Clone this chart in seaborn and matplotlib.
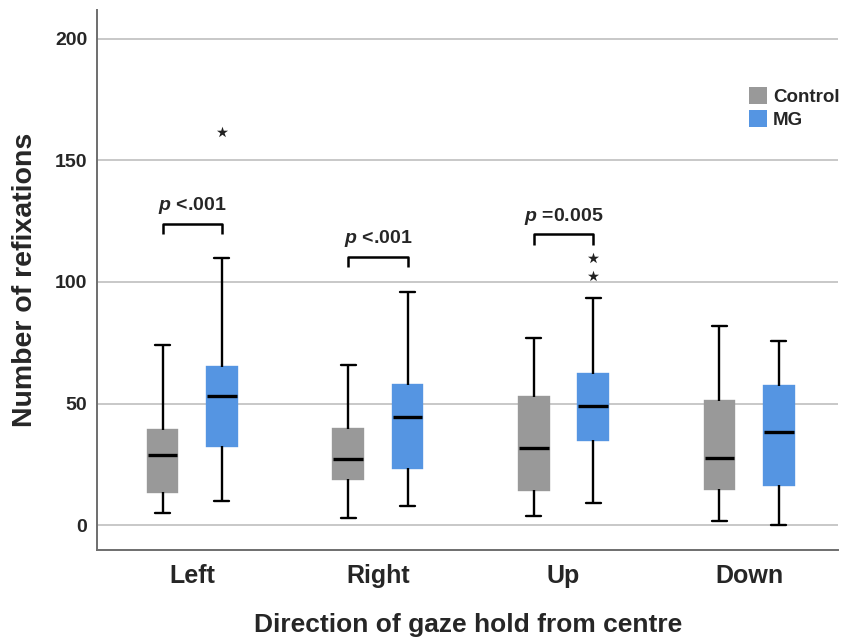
import numpy as np
import pandas as pd
import matplotlib
matplotlib.use("Agg")
import matplotlib.pyplot as plt
from matplotlib.patches import Patch
import seaborn as sns

# ---- data ----
directions = ["Left", "Right", "Up", "Down"]
groups = ["Control", "MG"]

# five-number summaries: whisker low, Q1, median, Q3, whisker high
ctrl_low = [4.8, 3.0, 3.8, 1.8]
ctrl_q1 = [13.7, 18.8, 14.4, 14.8]
ctrl_med = [28.8, 27.1, 31.9, 27.4]
ctrl_q3 = [39.3, 39.7, 52.5, 51.0]
ctrl_high = [74.0, 65.8, 77.0, 81.9]

mg_low = [9.9, 7.8, 8.9, 0.0]
mg_q1 = [32.6, 23.3, 34.9, 16.7]
mg_med = [53.0, 44.5, 48.9, 38.4]
mg_q3 = [65.1, 57.5, 62.1, 57.3]
mg_high = [110.0, 95.9, 93.2, 75.9]

# extreme values (asterisks), MG group
outlier_dir = ["Left", "Up", "Up"]
outlier_val = [161.6, 109.9, 102.5]

# significance annotations
p_dirs = ["Left", "Right", "Up"]
p_labels = ["$p$ <.001", "$p$ <.001", "$p$ =0.005"]
p_bracket_y = [123.7, 110.3, 119.5]

y_ticks = [0, 50, 100, 150, 200]

# ---- build long table ----
rows = []
for i, d in enumerate(directions):
    for v in [ctrl_low[i], ctrl_q1[i], ctrl_med[i], ctrl_q3[i], ctrl_high[i]]:
        rows.append((d, "Control", v))
    for v in [mg_low[i], mg_q1[i], mg_med[i], mg_q3[i], mg_high[i]]:
        rows.append((d, "MG", v))
df = pd.DataFrame(rows, columns=["direction", "group", "value"])

sns.set_style("white")
plt.rcParams["font.family"] = ["Liberation Sans", "DejaVu Sans"]
plt.rcParams["mathtext.fontset"] = "custom"
plt.rcParams["mathtext.it"] = "Liberation Sans:italic:bold"
plt.rcParams["mathtext.rm"] = "Liberation Sans:bold"

colors = {"Control": "#999999", "MG": "#5595e2"}

fig = plt.figure(figsize=(8.45, 6.39), dpi=100)
ax = fig.add_axes([0.115, 0.139, 0.877, 0.845])

width = 0.64
gap = 0.5
sns.boxplot(
    data=df, x="direction", y="value", hue="group",
    order=directions, hue_order=groups, palette=colors,
    width=width, gap=gap, whis=(0, 100), fliersize=0,
    linecolor="black", linewidth=1.7, saturation=1,
    medianprops={"linewidth": 2.4},
    legend=False, ax=ax, zorder=3,
)
for p in ax.patches:
    p.set_edgecolor(p.get_facecolor())

hue_off = width / 4
# outliers
ox = [directions.index(d) + hue_off for d in outlier_dir]
ax.scatter(ox, outlier_val, marker="*", s=70, color="#222222", zorder=4, linewidths=0)

# brackets
drop = 4.2
for d, lab, yb in zip(p_dirs, p_labels, p_bracket_y):
    c = directions.index(d)
    x0, x1 = c - hue_off, c + hue_off
    ax.plot([x0, x0, x1, x1], [yb - drop, yb, yb, yb - drop], color="black", lw=1.8,
            solid_capstyle="butt", zorder=4)
    ax.text(c, yb + 3.2, lab, ha="center", va="bottom", fontsize=14, fontweight="bold")

ax.set_ylim(-10.3, 211.7)
ax.set_xlim(-0.512, 3.48)
ax.set_yticks(y_ticks)
ax.set_yticklabels([str(t) for t in y_ticks], fontsize=14, fontweight="bold")
ax.set_xticks(range(len(directions)))
ax.set_xticklabels(directions, fontsize=18, fontweight="bold")
ax.tick_params(axis="y", length=0, pad=7)
ax.tick_params(axis="x", length=0, pad=10)
ax.yaxis.grid(True, color="#c8c8c8", lw=1.4, zorder=0)
ax.set_axisbelow(True)
for s in ["top", "right"]:
    ax.spines[s].set_visible(False)
for s in ["left", "bottom"]:
    ax.spines[s].set_color("#6e6e6e")
    ax.spines[s].set_linewidth(1.4)

ax.set_ylabel("Number of refixations", fontsize=20.5, fontweight="bold", labelpad=12)
ax.set_xlabel("Direction of gaze hold from centre", fontsize=19, fontweight="bold", labelpad=18)

handles = [Patch(facecolor=colors[g], edgecolor="none", label=g) for g in groups]
ax.legend(handles=handles, loc="upper right", bbox_to_anchor=(1.012, 0.872), frameon=False,
          prop={"weight": "bold", "size": 13.5}, handlelength=1.0, handleheight=1.0,
          handletextpad=0.3, labelspacing=0.25, borderaxespad=0)

fig.savefig("out.png", dpi=100)
